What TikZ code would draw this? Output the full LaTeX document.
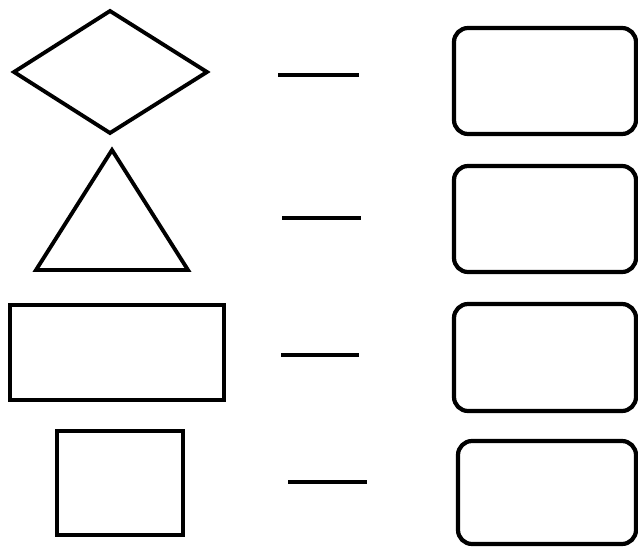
\documentclass[tikz,border=0pt]{standalone}
\usepackage{tikz}
\tikzset{
    % Shape outlines
    shapeline/.style={
        draw=black,
        line width=2.2pt,
        line join=miter
    },
    % Short dash in the middle column
    dashline/.style={
        draw=black,
        line width=2.8pt
    },
    % Empty answer box on the right
    answerbox/.style={
        draw=black,
        line width=2.4pt,
        rounded corners=8pt
    }
}
\begin{document}
\begin{tikzpicture}[x=0.02cm, y=-0.02cm]
    \useasboundingbox (0,0) rectangle (638,547);

    % Left shapes
    \draw[shapeline] (14,72) -- (110,11) -- (207,72) -- (110,133) -- cycle;
    \draw[shapeline] (112,150) -- (188,270) -- (36,270) -- cycle;
    \draw[shapeline] (10,305) rectangle (224,400);
    \draw[shapeline] (57,431) rectangle (183,535);

    % Dashes
    \draw[dashline] (278,75) -- (359,75);
    \draw[dashline] (282,218) -- (361,218);
    \draw[dashline] (281,355) -- (359,355);
    \draw[dashline] (288,482) -- (367,482);

    % Answer boxes
    \draw[answerbox] (454,28) rectangle (636,134);
    \draw[answerbox] (454,166) rectangle (636,272);
    \draw[answerbox] (454,304) rectangle (636,411);
    \draw[answerbox] (458,441) rectangle (636,544);
\end{tikzpicture}
\end{document}
